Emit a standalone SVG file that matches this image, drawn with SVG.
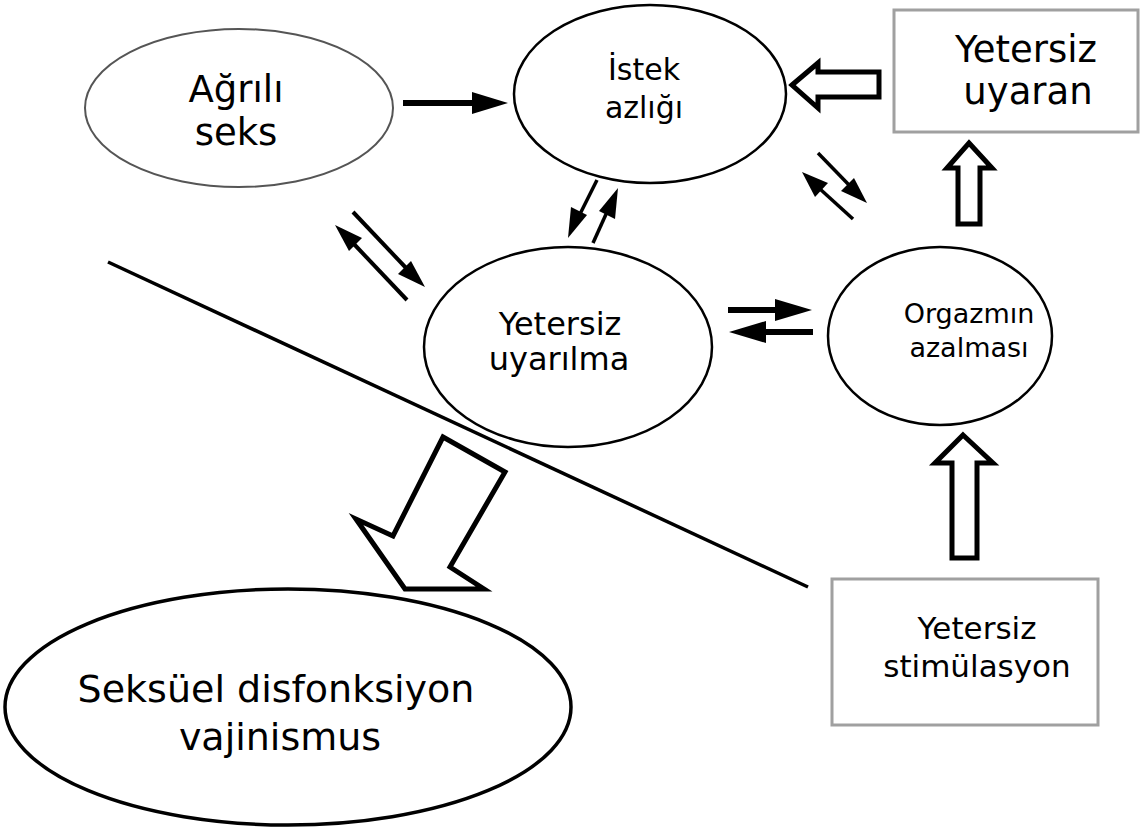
<svg xmlns="http://www.w3.org/2000/svg" width="1141" height="831" viewBox="0 0 1141 831">
<style>
text{font-family:"DejaVu Sans","Liberation Sans",sans-serif;fill:#000;text-anchor:middle}
.el{fill:#fff;stroke:#000;stroke-width:2.5}
.box{fill:#fff;stroke:#a0a0a0;stroke-width:3}
.ln{stroke:#000;fill:none}
.blk{fill:#fff;stroke:#000;stroke-width:5;stroke-linejoin:miter}
.hd{fill:#000}
</style>
<rect width="1141" height="831" fill="#fff"/>
<g id="agrili">
<ellipse cx="239" cy="108" rx="154" ry="79" fill="#fff" stroke="#555" stroke-width="2"/>
<text x="236" y="102" font-size="37">Ağrılı</text>
<text x="236" y="145" font-size="37">seks</text>
</g>
<g id="istek">
<ellipse class="el" cx="650" cy="94" rx="136" ry="89"/>
<text x="644" y="80" font-size="30">İstek</text>
<text x="644" y="118" font-size="30">azlığı</text>
</g>
<g id="uyaran">
<rect class="box" x="894" y="10" width="244" height="122"/>
<text x="1026" y="62" font-size="37">Yetersiz</text>
<text x="1028" y="104" font-size="37">uyaran</text>
</g>
<g id="uyarilma">
<ellipse class="el" cx="568" cy="347" rx="144" ry="100"/>
<text x="560" y="335" font-size="32">Yetersiz</text>
<text x="559" y="370" font-size="32">uyarılma</text>
</g>
<g id="orgazm">
<ellipse class="el" cx="940" cy="336" rx="112" ry="89"/>
<text x="969" y="323" font-size="27">Orgazmın</text>
<text x="969" y="357" font-size="27">azalması</text>
</g>
<g id="stimulasyon">
<rect class="box" x="832" y="579" width="266" height="146"/>
<text x="977" y="639" font-size="31">Yetersiz</text>
<text x="977" y="677" font-size="31">stimülasyon</text>
</g>
<g id="disfonksiyon">
<ellipse cx="288" cy="707" rx="283" ry="118" fill="#fff" stroke="#000" stroke-width="3.5"/>
<text x="276" y="702" font-size="38">Seksüel disfonksiyon</text>
<text x="280" y="750" font-size="38">vajinismus</text>
</g>
<g id="connectors">
<line class="ln" x1="108" y1="262" x2="808" y2="587" stroke-width="3.5"/>
<line class="ln" x1="403" y1="103" x2="478" y2="103" stroke-width="6"/>
<polygon class="hd" points="508,103 472,92 472,114"/>
<line class="ln" x1="353" y1="212" x2="408" y2="270" stroke-width="4"/>
<polygon class="hd" points="425,287 398,274 411,261"/>
<line class="ln" x1="407" y1="300" x2="352" y2="242" stroke-width="4"/>
<polygon class="hd" points="335,225 362,238 349,251"/>
<line class="ln" x1="597" y1="180" x2="580" y2="214" stroke-width="3.5"/>
<polygon class="hd" points="568,238 571,207 587,215"/>
<line class="ln" x1="593" y1="243" x2="607" y2="212" stroke-width="3.5"/>
<polygon class="hd" points="618,188 615,219 599,211"/>
<line class="ln" x1="818" y1="153" x2="850" y2="186" stroke-width="3.5"/>
<polygon class="hd" points="867,203 841,191 854,178"/>
<line class="ln" x1="853" y1="219" x2="820" y2="189" stroke-width="3.5"/>
<polygon class="hd" points="802,172 828,183 815,197"/>
<line class="ln" x1="728" y1="310" x2="780" y2="310" stroke-width="6"/>
<polygon class="hd" points="812,310 775,299 775,321"/>
<line class="ln" x1="813" y1="332" x2="762" y2="332" stroke-width="6"/>
<polygon class="hd" points="729,332 766,321 766,343"/>
<polygon class="blk" points="792,85 818,63 818,72 879,72 879,97 818,97 818,108"/>
<polygon class="blk" points="969,143 992,168 980,168 980,224 958,224 958,168 947,168"/>
<polygon class="blk" points="963,435 993,463 977,463 977,558 952,558 952,463 935,463"/>
<polygon class="blk" points="443,437 505,472 450,567 484,589 405,589 356,519 393,536"/>
</g>
</svg>
